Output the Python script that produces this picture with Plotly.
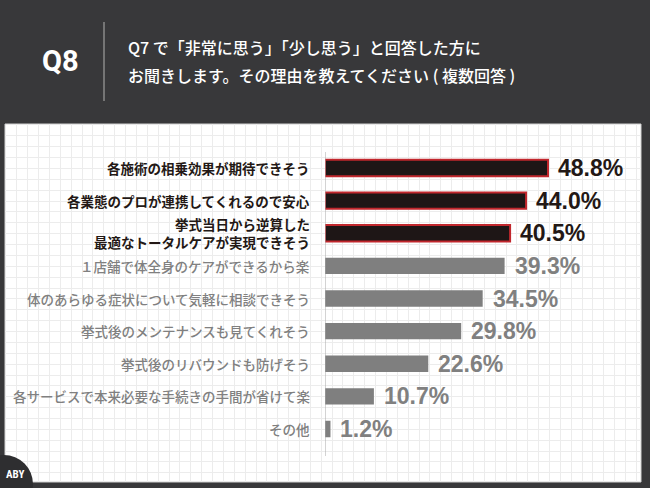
import plotly.graph_objects as go

categories = [
    "各施術の相乗効果が期待できそう",
    "各業態のプロが連携してくれるので安心",
    "挙式当日から逆算した<br>最適なトータルケアが実現できそう",
    "１店舗で体全身のケアができるから楽",
    "体のあらゆる症状について気軽に相談できそう",
    "挙式後のメンテナンスも見てくれそう",
    "挙式後のリバウンドも防げそう",
    "各サービスで本来必要な手続きの手間が省けて楽",
    "その他",
]
values = [48.8, 44.0, 40.5, 39.3, 34.5, 29.8, 22.6, 10.7, 1.2]
highlight = [True, True, True, False, False, False, False, False, False]
value_labels = [f"{v:.1f}%" for v in values]
title_q = "Q8"
title_lines = ["Q7 で「非常に思う」「少し思う」と回答した方に",
               "お聞きします。その理由を教えてください ( 複数回答 )"]

W, H = 650, 488
BG = "#38383a"
DARK_FILL = "#1e1616"
RED = "#c1272d"
GRAY = "#7f7f7f"
GRAY_TXT = "#808080"
DARK_TXT = "#231815"
JP = "Noto Sans CJK JP"

def px(x):
    return x / W

def py(y):
    return 1 - y / H

fig = go.Figure()

# grid subplot (background)
fig.add_trace(go.Scatter(x=[None], y=[None], xaxis="x", yaxis="y", showlegend=False, hoverinfo="skip"))

# bars
fig.add_trace(go.Bar(
    x=values, y=categories, orientation="h", xaxis="x2", yaxis="y2",
    marker=dict(
        color=[DARK_FILL if h else GRAY for h in highlight],
        line=dict(color=[RED if h else GRAY for h in highlight],
                  width=[2 if h else 0 for h in highlight]),
    ),
    width=0.5, showlegend=False, hoverinfo="skip",
))

annotations = []
for cat, v, lab, h in zip(categories, values, value_labels, highlight):
    annotations.append(dict(
        x=0, y=cat, xref="x2", yref="y2", text=cat, showarrow=False,
        xanchor="right", yanchor="middle", align="right", xshift=-13,
        font=dict(family=JP, size=13.5, color=DARK_TXT if h else GRAY_TXT,
                  weight="bold" if h else 500),
    ))
    annotations.append(dict(
        x=v, y=cat, xref="x2", yref="y2", text=lab, showarrow=False,
        xanchor="left", yanchor="middle", xshift=8,
        font=dict(family="Liberation Sans", size=23, color=DARK_TXT if h else GRAY_TXT,
                  weight="bold"),
    ))

annotations.append(dict(
    x=px(60), y=py(61), xref="paper", yref="paper", text=title_q, showarrow=False,
    xanchor="center", yanchor="middle",
    font=dict(family="Roboto", size=29, color="white", weight="bold"),
))
for i, line in enumerate(title_lines):
    annotations.append(dict(
        x=px(126), y=py(47 + 28 * i), xref="paper", yref="paper", text=line,
        showarrow=False, xanchor="left", yanchor="middle",
        font=dict(family=JP, size=16, color="white", weight=500),
    ))
annotations.append(dict(
    x=px(4), y=py(474), xref="paper", yref="paper", text="ABY", showarrow=False,
    xanchor="left", yanchor="middle",
    font=dict(family="Roboto Condensed, Roboto", size=11, color="white", weight="bold"),
))

shapes = [
    # white panel
    dict(type="rect", xref="paper", yref="paper", x0=px(5), x1=px(641), y0=py(482), y1=py(124),
         fillcolor="white", line=dict(color="#d0d0d0", width=1), layer="below"),
    # header divider
    dict(type="line", xref="paper", yref="paper", x0=px(104), x1=px(104), y0=py(101), y1=py(22),
         line=dict(color="#8a8a8a", width=1.5)),
    # logo quarter circle
    dict(type="circle", xref="paper", yref="paper", x0=px(4 - 29), x1=px(4 + 29),
         y0=py(484 + 29), y1=py(484 - 29), fillcolor="#2e2e30", line=dict(width=0)),
    # bar axis line
    dict(type="line", xref="x2", yref="paper", x0=0, x1=0, y0=py(456), y1=py(152),
         line=dict(color="#a8a8a8", width=1)),
]

x_max = (640 - 325) / 4.57

fig.update_layout(
    width=W, height=H, margin=dict(l=0, r=0, t=0, b=0),
    paper_bgcolor=BG, plot_bgcolor="rgba(0,0,0,0)",
    xaxis=dict(domain=[px(5), px(641)], range=[5, 641], dtick=10.87, tick0=6,
               showgrid=True, gridcolor="#ececec", gridwidth=1, zeroline=False,
               showticklabels=False, ticks="", fixedrange=True),
    yaxis=dict(domain=[py(482), py(124)], range=[482, 124], dtick=10.87, tick0=125,
               showgrid=True, gridcolor="#ececec", gridwidth=1, zeroline=False,
               showticklabels=False, ticks="", fixedrange=True),
    xaxis2=dict(domain=[px(325), px(640)], range=[0, x_max], anchor="y2",
                showgrid=False, zeroline=False, showticklabels=False, ticks="", showline=False),
    yaxis2=dict(domain=[py(445.3), py(151.7)], anchor="x2", autorange="reversed",
                type="category", showgrid=False, showticklabels=False, ticks="", showline=False),
    shapes=shapes, annotations=annotations,
)

fig.write_html("out.html", config={"displayModeBar": False},
               post_script="document.body.style.margin='0';document.body.style.overflow='hidden';")
